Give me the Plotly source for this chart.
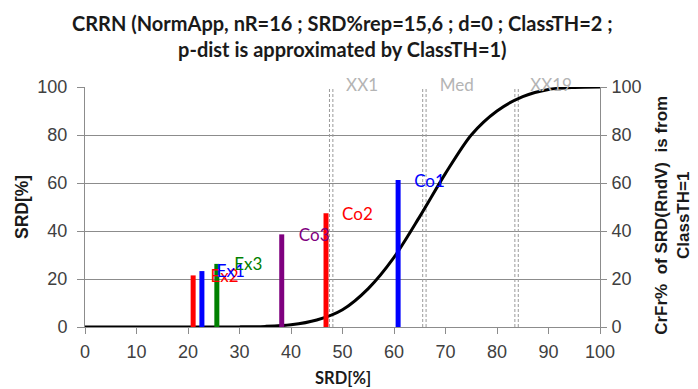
import plotly.graph_objects as go

# ---- data ----
curve_x = [0, 5, 10, 15, 20, 25, 30, 35, 40, 45, 50, 55, 60, 65, 70, 75, 80, 85, 90, 95, 100]
curve_y = [0, 0, 0, 0, 0, 0, 0.05, 0.25, 0.9, 2.9, 7.2, 16, 29, 46, 64, 80, 90, 96, 99, 99.8, 100]

bar_names = ["Ex2", "Ex1", "Ex3", "Co3", "Co2", "Co1"]
bar_x = [21.0, 22.7, 25.6, 38.2, 46.8, 60.8]
bar_h = [21.5, 23.3, 26.3, 38.6, 47.4, 61.3]
bar_colors = ["#ff0000", "#0000ff", "#008000", "#7f007f", "#ff0000", "#0000ff"]
label_x = [27.1, 28.3, 31.7, 44.5, 52.9, 66.9]
label_y = [20.4, 22.6, 25.6, 37.6, 46.3, 60.2]

quant_names = ["XX1", "Med", "XX19"]
quant_x = [47.8, 65.9, 83.8]
quant_label_x = [53.8, 72.2, 90.5]

x_ticks = list(range(0, 101, 10))
y_ticks = list(range(0, 101, 20))

fig = go.Figure()

# quantile double dashed lines
for qx in quant_x:
    for off in (-0.33, 0.33):
        fig.add_trace(go.Scatter(x=[qx + off, qx + off], y=[0, 100], mode="lines",
                                 line=dict(color="#9a9a9a", width=1, dash="3px,2px"),
                                 hoverinfo="skip", showlegend=False))

# curve
fig.add_trace(go.Scatter(x=curve_x, y=curve_y, mode="lines",
                         line=dict(color="black", width=3, shape="spline", smoothing=0.8),
                         showlegend=False))

# bars
for bx, bh, bc in zip(bar_x, bar_h, bar_colors):
    fig.add_trace(go.Scatter(x=[bx, bx], y=[0, bh], mode="lines",
                             line=dict(color=bc, width=5), showlegend=False))

# bar labels
fig.add_trace(go.Scatter(x=label_x, y=label_y, mode="text", text=bar_names,
                         textfont=dict(family="Lato", size=17, color=bar_colors),
                         textposition="middle center", showlegend=False, cliponaxis=False))

# quantile labels
fig.add_trace(go.Scatter(x=quant_label_x, y=[100] * 3, mode="text", text=quant_names,
                         textfont=dict(family="Lato", size=17, color="#b4b4b4"),
                         textposition="middle center", showlegend=False, cliponaxis=False))

# dummy trace for right axis
fig.add_trace(go.Scatter(x=[None], y=[None], yaxis="y2", showlegend=False))

tickfont = dict(family="Arial", size=18, color="#404040")
# page body has an 8px margin, so the margins are reduced by 8 at left/top
fig.update_layout(
    width=698, height=389,
    margin=dict(l=77, r=106, t=79, b=70),
    paper_bgcolor="white", plot_bgcolor="white",
    xaxis=dict(range=[0, 100], tickvals=x_ticks, showgrid=False, zeroline=False,
               showline=True, linecolor="#8c8c8c", ticks="outside", ticklen=6,
               tickcolor="#8c8c8c", tickfont=tickfont, ticklabelstandoff=2),
    yaxis=dict(range=[0, 100], tickvals=y_ticks, showgrid=True, gridcolor="#8c8c8c",
               zeroline=False, showline=True, linecolor="#8c8c8c", ticks="outside",
               ticklen=7, tickcolor="#8c8c8c", tickfont=tickfont, ticklabelstandoff=6),
    yaxis2=dict(range=[0, 100], tickvals=y_ticks, overlaying="y", side="right",
                showgrid=False, zeroline=False, showline=True, linecolor="#8c8c8c",
                ticks="outside", ticklen=6, tickcolor="#8c8c8c", tickfont=tickfont,
                ticklabelstandoff=1),
)

fig.add_annotation(text="<b>CRRN (NormApp, nR=16 ; SRD%rep=15,6 ; d=0 ; ClassTH=2 ;<br>p-dist is approximated by ClassTH=1)</b>",
                   xref="paper", yref="paper", x=0.5, y=1.2125, xanchor="center", yanchor="middle",
                   showarrow=False, font=dict(family="Lato", size=20, color="#1a1a1a"))
fig.add_annotation(text="<b>SRD[%]</b>", xref="paper", yref="paper", x=-0.1223, y=0.5,
                   xanchor="center", yanchor="middle",
                   textangle=-90, showarrow=False, font=dict(family="Arial", size=17.5, color="#1a1a1a"))
fig.add_annotation(text="<b>SRD[%]</b>", xref="paper", yref="paper", x=0.5, y=-0.213,
                   xanchor="center", yanchor="middle",
                   showarrow=False, font=dict(family="Lato", size=16.5, color="#1a1a1a"))
fig.add_annotation(text="<b>CrFr%\u00a0\u00a0of SRD(RndV)\u00a0\u00a0is from<br>ClassTH=1</b>", xref="paper", yref="paper",
                   x=1.1415, y=0.467, xanchor="center", yanchor="middle", textangle=-90, showarrow=False,
                   font=dict(family="Arial", size=17, color="#1a1a1a"))

fig.write_html("out.html")
